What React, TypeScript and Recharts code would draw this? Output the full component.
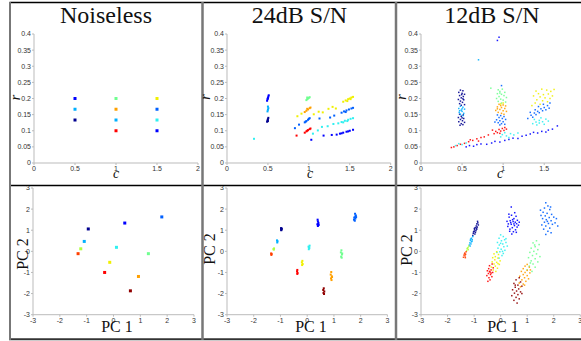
import { ScatterChart, Scatter, XAxis, YAxis } from "recharts";

type Cluster = [number, [number, number][]];

// class index -> jet colour (see PALETTE)
const crTicksX = [0, 0.5, 1, 1.5, 2];
const crTicksY = [0, 0.05, 0.1, 0.15, 0.2, 0.25, 0.3, 0.35, 0.4];
const pcTicks = [-3, -2, -1, 0, 1, 2, 3];

const cleanCR: Cluster[] = [
  [1, [[0.5, 0.2]]], [3, [[0.5, 0.1667]]], [0, [[0.5, 0.1333]]],
  [5, [[1, 0.2]]], [8, [[1, 0.1667]]], [3, [[1, 0.1333]]], [10, [[1, 0.1]]],
  [7, [[1.5, 0.2]]], [2, [[1.5, 0.1667]]], [4, [[1.5, 0.1333]]], [1, [[1.5, 0.1]]],
];

const snr24CR: Cluster[] = [
  [1, [[0.49, 0.193], [0.495, 0.198], [0.5, 0.202], [0.505, 0.206], [0.51, 0.21], [0.5, 0.2]]],
  [3, [[0.495, 0.16], [0.5, 0.165], [0.505, 0.17], [0.5, 0.175]]],
  [0, [[0.49, 0.128], [0.495, 0.132], [0.5, 0.136], [0.505, 0.14], [0.5, 0.13]]],
  [5, [[0.97, 0.195], [0.98, 0.198], [0.99, 0.2], [1.0, 0.202], [1.01, 0.204], [0.98, 0.203]]],
  [8, [[0.95, 0.158], [0.97, 0.162], [0.99, 0.166], [1.01, 0.17], [1.02, 0.172], [0.98, 0.168]]],
  [2, [[0.95, 0.126], [0.97, 0.13], [0.99, 0.134], [1.0, 0.137], [1.01, 0.139], [0.96, 0.128]]],
  [10, [[0.95, 0.094], [0.97, 0.098], [0.99, 0.102], [1.01, 0.105], [1.02, 0.107], [0.98, 0.1], [0.85, 0.085]]],
  [7, [[1.42, 0.19], [1.45, 0.194], [1.48, 0.198], [1.5, 0.2], [1.52, 0.203], [1.54, 0.205], [1.47, 0.192], [1.51, 0.198],
       [0.86, 0.145], [0.91, 0.153], [1.06, 0.151], [1.12, 0.159], [1.17, 0.157], [1.24, 0.168], [1.29, 0.174], [1.33, 0.169]]],
  [2, [[1.4, 0.156], [1.43, 0.16], [1.46, 0.163], [1.49, 0.166], [1.52, 0.169], [1.54, 0.171], [1.45, 0.158],
       [0.83, 0.108], [0.88, 0.119], [1.13, 0.138], [1.26, 0.141], [1.31, 0.147]]],
  [4, [[1.36, 0.123], [1.4, 0.127], [1.44, 0.131], [1.48, 0.134], [1.51, 0.137], [1.54, 0.139], [1.42, 0.126], [1.47, 0.13],
       [0.33, 0.075], [1.05, 0.091], [1.11, 0.101], [1.16, 0.112], [1.23, 0.114], [1.3, 0.121]]],
  [1, [[1.34, 0.088], [1.38, 0.091], [1.42, 0.094], [1.46, 0.097], [1.5, 0.1], [1.54, 0.103], [1.4, 0.092], [1.48, 0.098],
       [1.03, 0.072], [1.18, 0.085], [1.28, 0.087]]],
];

const snr12CR: Cluster[] = [
  [0, [[0.48, 0.226], [0.51, 0.224], [0.46, 0.219], [0.5, 0.216], [0.53, 0.213], [0.47, 0.209], [0.515, 0.206], [0.49, 0.202],
       [0.455, 0.197], [0.52, 0.196], [0.48, 0.192], [0.505, 0.188], [0.47, 0.184], [0.53, 0.181], [0.49, 0.179], [0.51, 0.199],
       [0.495, 0.212], [0.47, 0.151], [0.515, 0.149], [0.49, 0.145], [0.455, 0.141], [0.52, 0.138], [0.48, 0.135],
       [0.505, 0.131], [0.46, 0.128], [0.53, 0.126], [0.49, 0.122], [0.51, 0.119], [0.475, 0.117], [0.5, 0.14]]],
  [3, [[0.48, 0.176], [0.51, 0.173], [0.46, 0.169], [0.53, 0.167], [0.49, 0.164], [0.5, 0.16], [0.465, 0.157], [0.52, 0.154],
       [0.48, 0.151], [0.51, 0.147], [0.47, 0.162], [0.5, 0.168], [0.7, 0.32]]],
  [5, [[0.94, 0.227], [0.99, 0.229], [0.96, 0.222], [1.02, 0.219], [0.93, 0.215], [0.98, 0.213], [1.01, 0.209], [0.95, 0.206],
       [1.04, 0.203], [0.92, 0.2], [0.97, 0.198], [1.0, 0.195], [0.94, 0.191], [1.03, 0.189], [0.98, 0.186], [0.85, 0.232],
       [0.96, 0.217]]],
  [8, [[0.95, 0.182], [1.0, 0.18], [1.03, 0.177], [0.93, 0.174], [0.98, 0.172], [1.02, 0.169], [0.96, 0.166], [0.91, 0.163],
       [1.0, 0.162], [1.04, 0.16], [0.94, 0.157], [0.98, 0.154], [1.01, 0.151], [0.93, 0.168], [0.97, 0.178]]],
  [2, [[0.93, 0.149], [0.97, 0.147], [1.01, 0.144], [0.95, 0.141], [0.99, 0.138], [1.03, 0.135], [0.92, 0.134], [0.96, 0.131],
       [1.0, 0.128], [0.94, 0.125], [0.98, 0.122], [1.02, 0.12], [0.9, 0.127], [0.96, 0.118], [0.98, 0.24],
       [1.3, 0.138], [1.34, 0.148], [1.38, 0.155], [1.42, 0.16], [1.46, 0.168], [1.5, 0.172], [1.54, 0.178], [1.57, 0.186],
       [1.36, 0.142], [1.4, 0.15], [1.44, 0.156], [1.48, 0.162], [1.52, 0.165], [1.43, 0.175], [1.49, 0.182], [1.33, 0.157],
       [1.56, 0.17], [1.39, 0.165]]],
  [10, [[0.87, 0.102], [0.91, 0.098], [0.95, 0.104], [0.99, 0.107], [1.02, 0.11], [0.93, 0.094], [0.97, 0.099], [1.01, 0.101],
        [0.89, 0.091], [1.04, 0.105], [0.96, 0.092], [0.82, 0.087], [0.77, 0.081], [0.73, 0.079], [0.68, 0.075], [0.63, 0.07],
        [0.58, 0.066], [0.53, 0.061], [0.48, 0.058], [0.44, 0.054], [0.4, 0.05], [0.37, 0.048], [0.7, 0.068], [0.6, 0.072]]],
  [4, [[0.99, 0.088], [1.04, 0.084], [1.09, 0.091], [1.07, 0.079], [1.13, 0.087], [0.97, 0.081], [1.18, 0.093], [1.02, 0.094],
       [0.42, 0.054], [0.46, 0.06], [0.5, 0.057], [0.55, 0.062], [1.36, 0.122], [1.4, 0.127], [1.44, 0.132], [1.48, 0.128],
       [1.52, 0.136], [1.46, 0.14], [1.41, 0.118], [1.5, 0.12], [1.55, 0.13], [1.38, 0.135], [1.44, 0.124]]],
  [1, [[0.55, 0.05], [0.59, 0.054], [0.64, 0.052], [0.68, 0.057], [0.73, 0.059], [0.8, 0.058], [0.86, 0.062], [0.9, 0.067],
       [0.96, 0.065], [1.02, 0.07], [1.07, 0.073], [1.12, 0.077], [1.18, 0.076], [1.23, 0.083], [1.28, 0.086], [1.33, 0.09],
       [1.37, 0.095], [1.42, 0.093], [1.47, 0.098], [1.52, 0.096], [1.55, 0.102], [1.6, 0.105], [1.66, 0.115], [0.93, 0.38],
       [0.95, 0.39]]],
  [7, [[1.4, 0.223], [1.47, 0.229], [1.53, 0.226], [1.58, 0.222], [1.62, 0.228], [1.43, 0.215], [1.49, 0.212], [1.55, 0.214],
       [1.37, 0.208], [1.45, 0.205], [1.51, 0.202], [1.57, 0.2], [1.41, 0.196], [1.48, 0.193], [1.54, 0.19], [1.39, 0.186],
       [1.45, 0.182], [1.35, 0.178], [1.6, 0.208], [1.0, 0.186], [0.97, 0.183]]],
];

const cleanPC: Cluster[] = [
  [0, [[-0.94, 1.06]]], [1, [[0.42, 1.34]]], [2, [[1.8, 1.63]]], [3, [[-1.09, 0.47]]],
  [6, [[-1.22, 0.12]]], [9, [[-1.32, -0.11]]], [4, [[0.11, 0.19]]], [5, [[1.3, -0.11]]],
  [7, [[-0.14, -0.52]]], [10, [[-0.33, -1.0]]], [8, [[0.93, -1.19]]], [11, [[0.63, -1.87]]],
];

const snr24PC: Cluster[] = [
  [0, [[-0.97, 1.0], [-0.96, 1.05], [-0.98, 1.1], [-0.95, 1.08], [-0.97, 1.02]]],
  [1, [[0.4, 1.2], [0.38, 1.28], [0.42, 1.35], [0.4, 1.42], [0.39, 1.5], [0.41, 1.3], [0.43, 1.25]]],
  [2, [[1.78, 1.45], [1.8, 1.55], [1.76, 1.6], [1.82, 1.7], [1.79, 1.78], [1.75, 1.5], [1.83, 1.62], [1.8, 1.65]]],
  [3, [[-1.12, 0.42], [-1.11, 0.48], [-1.13, 0.52]]],
  [6, [[-1.25, 0.08], [-1.24, 0.14], [-1.26, 0.11]]],
  [9, [[-1.34, -0.17], [-1.33, -0.12], [-1.35, -0.1]]],
  [4, [[0.06, 0.1], [0.08, 0.15], [0.05, 0.22], [0.09, 0.27], [0.07, 0.19]]],
  [5, [[1.28, 0.05], [1.26, -0.05], [1.3, -0.15], [1.27, -0.25], [1.29, -0.3], [1.31, -0.1]]],
  [7, [[-0.18, -0.45], [-0.2, -0.52], [-0.17, -0.6], [-0.19, -0.65]]],
  [10, [[-0.37, -0.88], [-0.38, -0.95], [-0.36, -1.02], [-0.37, -1.07]]],
  [8, [[0.9, -0.98], [0.88, -1.1], [0.92, -1.18], [0.89, -1.28], [0.91, -1.36], [0.93, -1.22]]],
  [11, [[0.62, -1.75], [0.6, -1.83], [0.64, -1.9], [0.61, -1.97], [0.63, -2.02]]],
];

const snr12PC: Cluster[] = [
  [0, [[-0.87, 1.42], [-0.9, 1.3], [-0.84, 1.25], [-0.92, 1.2], [-0.88, 1.15], [-0.96, 1.12], [-0.9, 1.05], [-0.98, 1.02],
       [-0.93, 0.98], [-1.0, 0.95], [-0.95, 0.9], [-1.03, 0.85], [-0.97, 0.82], [-1.05, 0.75], [-0.91, 1.1], [-0.99, 1.08],
       [-0.86, 1.35], [-1.02, 0.92]]],
  [3, [[-1.05, 0.7], [-1.1, 0.62], [-1.07, 0.55], [-1.14, 0.52], [-1.1, 0.45], [-1.16, 0.4], [-1.12, 0.35], [-1.18, 0.3],
       [-1.08, 0.48], [-1.13, 0.58], [-1.15, 0.25]]],
  [6, [[-1.2, 0.25], [-1.23, 0.18], [-1.26, 0.12], [-1.22, 0.08], [-1.28, 0.03], [-1.25, 0.15]]],
  [9, [[-1.3, -0.02], [-1.35, -0.08], [-1.32, -0.14], [-1.38, -0.18], [-1.34, -0.22], [-1.4, -0.28], [-1.36, -0.12], [-1.33, -0.3]]],
  [1, [[0.32, 1.62], [0.41, 1.71], [0.5, 1.55], [0.58, 1.66], [0.36, 1.45], [0.47, 1.41], [0.55, 1.38], [0.63, 1.47],
       [0.29, 1.3], [0.4, 1.28], [0.52, 1.22], [0.6, 1.31], [0.44, 1.12], [0.35, 1.05], [0.56, 1.02], [0.48, 0.93],
       [0.62, 1.15], [0.38, 1.36], [0.45, 1.5], [0.53, 1.83], [0.27, 1.18], [0.42, 0.82], [0.4, 2.1], [0.67, 1.24],
       [0.5, 1.3], [0.34, 0.95], [0.24, 1.42], [0.7, 1.38], [0.59, 0.9], [0.31, 1.76]]],
  [2, [[1.7, 2.3], [1.78, 2.15], [1.65, 2.05], [1.85, 1.98], [1.6, 1.85], [1.75, 1.8], [1.92, 1.75], [1.68, 1.68],
       [1.83, 1.6], [2.0, 1.62], [1.58, 1.55], [1.72, 1.5], [1.9, 1.45], [2.1, 1.55], [1.65, 1.38], [1.8, 1.32],
       [1.95, 1.28], [1.7, 1.2], [1.85, 1.1], [1.62, 1.05], [1.78, 0.95], [1.9, 0.88], [1.7, 0.8], [1.55, 1.25],
       [2.05, 1.35], [1.88, 2.1], [1.52, 1.7], [1.76, 1.42], [2.15, 1.2], [1.5, 1.95]]],
  [4, [[0.0, 0.78], [0.1, 0.7], [-0.06, 0.62], [0.15, 0.55], [0.03, 0.5], [-0.12, 0.42], [0.2, 0.42], [0.08, 0.35],
       [-0.05, 0.3], [0.12, 0.22], [0.25, 0.25], [-0.1, 0.15], [0.02, 0.1], [0.16, 0.05], [-0.03, -0.02], [0.1, -0.1],
       [-0.14, -0.05], [0.05, -0.2], [-0.06, -0.32], [0.2, 0.6], [0.0, 0.38], [0.07, 0.0]]],
  [5, [[1.35, 0.5], [1.22, 0.4], [1.45, 0.32], [1.3, 0.22], [1.15, 0.15], [1.4, 0.08], [1.25, 0.0], [1.1, -0.05],
       [1.35, -0.12], [1.2, -0.2], [1.48, -0.25], [1.05, -0.3], [1.3, -0.35], [1.15, -0.45], [1.4, -0.5], [1.22, -0.6],
       [1.08, -0.7], [1.3, -0.75], [1.0, -0.88], [1.18, -0.95], [1.28, 0.3], [1.12, -0.55]]],
  [7, [[-0.15, -0.02], [-0.25, -0.12], [-0.08, -0.15], [-0.2, -0.25], [-0.3, -0.3], [-0.1, -0.32], [-0.22, -0.4],
       [-0.02, -0.45], [-0.32, -0.5], [-0.15, -0.52], [-0.25, -0.6], [-0.05, -0.62], [-0.2, -0.7], [-0.35, -0.75],
       [-0.12, -0.8], [-0.28, -0.88], [-0.18, -0.95], [-0.1, -0.58]]],
  [10, [[-0.32, -0.6], [-0.42, -0.68], [-0.28, -0.78], [-0.45, -0.82], [-0.36, -0.88], [-0.5, -0.92], [-0.4, -0.98],
        [-0.3, -1.0], [-0.46, -1.05], [-0.38, -1.1], [-0.52, -1.15], [-0.33, -1.2], [-0.44, -1.25], [-0.4, -1.35],
        [-0.48, -1.42], [-0.36, -1.03], [-0.42, -0.95]]],
  [8, [[1.0, -0.62], [0.92, -0.7], [1.08, -0.75], [0.85, -0.82], [1.0, -0.9], [0.78, -0.95], [0.92, -1.0], [1.1, -1.02],
       [0.85, -1.1], [1.0, -1.15], [0.72, -1.18], [0.9, -1.25], [1.05, -1.3], [0.8, -1.35], [0.95, -1.42], [0.7, -1.5],
       [0.85, -1.55], [0.75, -1.68], [0.9, -1.6], [1.12, -0.88]]],
  [11, [[0.7, -1.25], [0.58, -1.35], [0.75, -1.45], [0.5, -1.52], [0.65, -1.6], [0.8, -1.65], [0.55, -1.7], [0.68, -1.78],
        [0.45, -1.82], [0.6, -1.88], [0.75, -1.92], [0.52, -1.98], [0.65, -2.05], [0.42, -2.1], [0.58, -2.18], [0.7, -2.25],
        [0.5, -2.32], [0.62, -2.45], [0.8, -2.0], [0.55, -1.6]]],
];

const PALETTE = ["#00008f", "#0000ff", "#0060ff", "#00b0ff", "#30f0f0", "#70ff90",
  "#b0ff40", "#f0f000", "#ffa000", "#ff4000", "#ff0000", "#900000"];

const square = (s: number) => (p: any) =>
  <rect x={p.cx - s / 2} y={p.cy - s / 2} width={s} height={s} fill={p.fill} fillOpacity={p.fillOpacity} />;

const tickStyle = { fontSize: 7, fill: "#333", fontFamily: "Liberation Sans" };

function Panel(props: {
  x0: number; x1: number; y0: number; y1: number;
  xDomain: [number, number]; yDomain: [number, number];
  xTicks: number[]; yTicks: number[];
  clusters: Cluster[]; size: number; opacity: number;
}) {
  const { x0, x1, y0, y1, clusters } = props;
  const yw = 30, pad = 8, xh = 14;
  return (
    <div style={{ position: "absolute", left: x0 - yw, top: y0 - pad }}>
      <ScatterChart width={x1 - x0 + yw + pad} height={y1 - y0 + pad + xh}
        margin={{ top: pad, right: pad, bottom: 0, left: 0 }}>
        <XAxis type="number" dataKey="x" domain={props.xDomain} ticks={props.xTicks} interval={0}
          height={xh} tick={tickStyle} tickSize={2} tickMargin={1} stroke="#bbb" />
        <YAxis type="number" dataKey="y" domain={props.yDomain} ticks={props.yTicks} interval={0}
          width={yw} tick={tickStyle} tickSize={2} tickMargin={1} stroke="#bbb" />
        {clusters.map(([cls, pts], i) => (
          <Scatter key={i} data={pts.map(([x, y]) => ({ x, y }))} fill={PALETTE[cls]}
            fillOpacity={props.opacity} shape={square(props.size)} isAnimationActive={false} />
        ))}
      </ScatterChart>
    </div>
  );
}

const SERIF = "Liberation Serif";

function T(p: { x: number; y: number; size: number; rot?: boolean; italic?: boolean; children: string }) {
  return (
    <text x={p.rot ? 0 : p.x} y={p.rot ? 0 : p.y} transform={p.rot ? `translate(${p.x},${p.y}) rotate(-90)` : undefined}
      fontFamily={SERIF} fontSize={p.size} fontStyle={p.italic ? "italic" : "normal"} fill="#111" textAnchor="middle">
      {p.children}
    </text>
  );
}

export default function App() {
  const top = { y0: 34.3, y1: 163.3, xDomain: [0, 2] as [number, number], yDomain: [0, 0.4] as [number, number], xTicks: crTicksX, yTicks: crTicksY };
  const bot = { y0: 188.3, y1: 315, xDomain: [-3, 3] as [number, number], yDomain: [-3, 3] as [number, number], xTicks: pcTicks, yTicks: pcTicks };
  return (
    <div style={{ position: "absolute", left: 0, top: 0, width: 581, height: 341, overflow: "hidden", background: "#fff" }}>
      <Panel {...top} x0={34.3} x1={198.3} clusters={cleanCR} size={3} opacity={1} />
      <Panel {...top} x0={227.3} x1={391} clusters={snr24CR} size={2} opacity={1} />
      <Panel {...top} x0={420.7} x1={585} clusters={snr12CR} size={1.5} opacity={0.9} />
      <Panel {...bot} x0={33.3} x1={194.3} clusters={cleanPC} size={3} opacity={1} />
      <Panel {...bot} x0={227.3} x1={387.7} clusters={snr24PC} size={2} opacity={1} />
      <Panel {...bot} x0={420.7} x1={580} clusters={snr12PC} size={1.5} opacity={0.9} />

      <svg width={581} height={341} style={{ position: "absolute", left: 0, top: 0, pointerEvents: "none" }}>
        {/* frame */}
        <line x1={9.5} y1={2.5} x2={581} y2={2.5} stroke="#000" strokeWidth={1.5} />
        <line x1={10} y1={185.5} x2={581} y2={185.5} stroke="#000" strokeWidth={1.5} />
        <line x1={9} y1={339.3} x2={581} y2={339.3} stroke="#333" strokeWidth={2} />
        <line x1={10} y1={2} x2={10} y2={340} stroke="#777" strokeWidth={2} />
        <line x1={202.5} y1={2} x2={202.5} y2={340} stroke="#777" strokeWidth={2.5} />
        <line x1={396} y1={2} x2={396} y2={340} stroke="#777" strokeWidth={2.5} />

        {/* titles */}
        <T x={106} y={23} size={24}>Noiseless</T>
        <T x={299.5} y={23} size={24}>24dB S/N</T>
        <T x={492} y={23} size={24}>12dB S/N</T>

        {/* axis labels */}
        <T x={116} y={178} size={14} italic>c</T>
        <T x={310} y={178} size={14} italic>c</T>
        <T x={500} y={178} size={14} italic>c</T>
        <T x={19.5} y={97.5} size={14} italic rot>r</T>
        <T x={209.5} y={97} size={14} italic rot>r</T>
        <T x={406} y={97} size={14} italic rot>r</T>

        <T x={117} y={332} size={16}>PC 1</T>
        <T x={311} y={332} size={16}>PC 1</T>
        <T x={503} y={332} size={16}>PC 1</T>
        <T x={27.5} y={254} size={16} rot>PC 2</T>
        <T x={215} y={249} size={16} rot>PC 2</T>
        <T x={412} y={250} size={16} rot>PC 2</T>
      </svg>
    </div>
  );
}
